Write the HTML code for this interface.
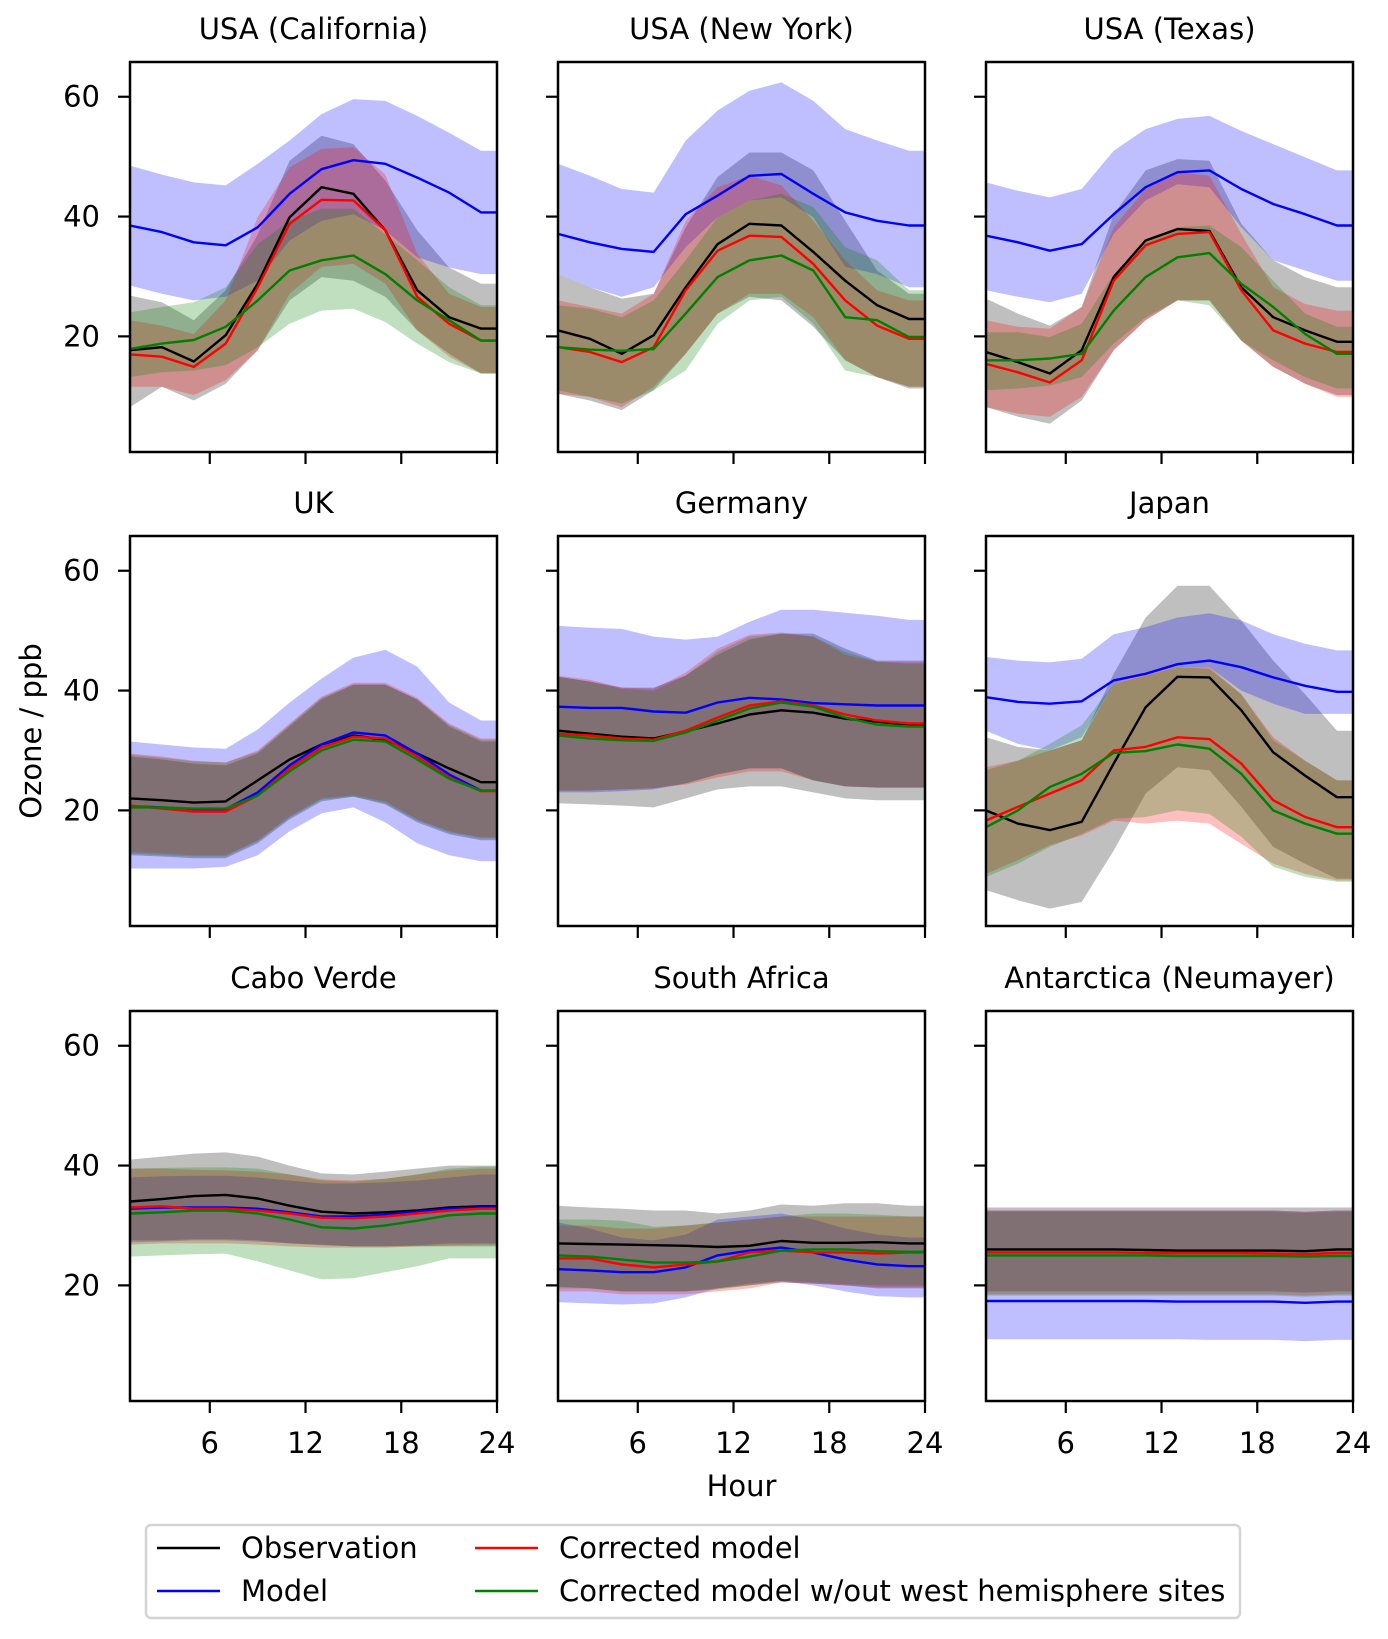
<!DOCTYPE html>
<html><head><meta charset="utf-8"><style>
html,body{margin:0;padding:0;background:#fff;}
svg{display:block;font-family:"DejaVu Sans","Liberation Sans",sans-serif;}
</style></head><body>
<svg id="fig" width="1388" height="1639" viewBox="0 0 1388 1639" xmlns="http://www.w3.org/2000/svg"></svg>
<script>
const HOURS=[1,3,5,7,9,11,13,15,17,19,21,23];
const Y_TICKS=[20,40,60];
const X_TICKS=[6,12,18,24];
const TITLES=["USA (California)","USA (New York)","USA (Texas)","UK","Germany","Japan","Cabo Verde","South Africa","Antarctica (Neumayer)"];
// California
const caObs=[17.7,18.2,15.8,20.2,28.8,39.9,44.9,43.8,37.7,27.7,23.2,21.3];
const caObsHi=[26.8,25.7,22.7,27.7,37,49.3,53.5,52.1,46,37.7,31.5,28.8];
const caObsLo=[8.2,11.6,9.3,12.1,17.7,26,29.9,29.3,26.6,21,17.1,13.8];
const caMod=[38.5,37.4,35.7,35.2,38.2,43.8,47.9,49.4,48.8,46.5,44,40.7];
const caModHi=[48.5,47,45.7,45.2,48.8,52.7,57.1,59.6,59.3,56.8,54,51];
const caModLo=[28.5,27.1,26,26.6,29.3,36,39.3,40.4,37.7,33.2,31.5,30.4];
const caCor=[17,16.6,14.9,18.8,28.2,38.8,42.8,42.7,37.7,26.6,22.1,19.3];
const caCorHi=[22.7,21.8,20.4,26,39.9,48.2,51.3,51.6,47,33.8,27.1,24.9];
const caCorLo=[11.6,11.6,10.2,12.7,17.7,27.1,31.6,32.1,28.8,21,16.6,13.8];
const caWo=[17.9,18.8,19.4,21.6,26,31,32.7,33.5,30.4,26,22.7,19.3];
const caWoHi=[24,24.9,25.7,28.2,35.4,39.3,41.3,41.3,37,32.7,28.2,25.2];
const caWoLo=[13.2,14,14.3,15.2,18.2,22.1,24.3,24.6,22.4,18.8,15.7,13.8];
// New York
const nyObs=[21,19.6,17.1,20.2,28.2,35.4,38.8,38.5,34.1,29.3,25.2,22.9];
const nyObsHi=[30.4,28.2,26.3,27.1,38.2,46.6,50.7,50.7,47.7,39.3,31,27.1];
const nyObsLo=[10.4,9.3,7.7,11,17.1,23.8,26.6,26,21.6,16,13.2,11.3];
const nyMod=[37.1,35.7,34.6,34.1,40.4,43.5,46.8,47.1,43.8,40.7,39.3,38.5];
const nyModHi=[48.8,46.8,44.6,44,52.7,57.7,61,62.4,59.3,54.6,52.7,51];
const nyModLo=[30.4,28.2,26.6,28.2,34.9,39.9,42.7,43.2,39.9,31.6,30.4,28.2];
const nyCor=[18.2,17.4,15.7,18.2,27.7,34.3,36.8,36.6,32.1,26,21.8,19.6];
const nyCorHi=[26,24.9,23.8,27.1,39.3,44.9,46.8,45.2,39.3,32.7,27.7,26];
const nyCorLo=[10.4,9.9,8.2,11.6,17.1,23.8,27.1,27.1,23.2,16,13.2,11.6];
const nyWo=[18.2,17.8,17.6,17.9,23.8,29.9,32.7,33.5,31,23.2,22.7,19.9];
const nyWoHi=[25.2,24.6,23.2,26,32.7,39.9,42.7,43.8,41.6,34.9,32.7,27.7];
const nyWoLo=[11,9.9,8.8,11,14.3,22.1,26,26.6,22.1,14.3,13.2,11.6];
// Texas
const txObs=[17.4,15.7,13.8,17.7,29.9,36,37.9,37.6,28.2,23.2,21,19.1];
const txObsHi=[26.3,23.8,21.8,24.9,40.4,47.7,49.6,49.3,38.8,32.7,29.9,28.2];
const txObsLo=[8.2,6.6,5.4,9.3,17.7,22.7,26,26,19.3,14.9,12.1,10.2];
const txMod=[36.8,35.7,34.3,35.4,40.4,44.9,47.4,47.7,44.6,42.1,40.4,38.5];
const txModHi=[45.7,44.3,43.2,44.6,51,54.6,56.3,56.8,54.3,52.1,49.9,47.7];
const txModLo=[27.7,26.6,25.7,27.1,37.1,42.7,45.4,44.9,38.2,32.7,31,29.3];
const txCor=[15.4,14,12.3,16,29.3,35.2,37.1,37.4,27.7,21,18.8,17.4];
const txCorHi=[22.7,21.6,21.3,24.9,38.2,44.6,47.4,46.8,37.1,28.2,25.4,24.3];
const txCorLo=[8.2,7.1,6.6,9.9,17.7,22.7,26,26,19.3,14.9,12.1,9.9];
const txWo=[16,16,16.3,17.1,24.3,29.9,33.2,33.9,28.8,24.9,20.4,17.1];
const txWoHi=[20.7,20.7,19.9,22.1,30.4,36,38.2,38.5,34.9,29.3,23.8,21.6];
const txWoLo=[11,11.3,11.8,13.2,18.8,23.2,26,25.2,19.3,16,13.2,11.3];
// UK
const ukObs=[22,21.7,21.3,21.5,25,28.5,31,32.5,31.8,29.5,27,24.7];
const ukObsHi=[29,28.5,27.8,27.5,29.5,34,38.5,41,41,38.5,34,31.5];
const ukObsLo=[12.5,12.3,12,12,14.5,18.5,21.5,22.3,21,18,16,15];
const ukMod=[20.7,20.5,20.2,20.2,23,27.5,31,33,32.5,29.5,26,23.3];
const ukModHi=[31.5,31,30.5,30.3,33.5,38,42,45.5,46.8,44,38,35];
const ukModLo=[10.3,10.3,10.3,10.6,12.5,16.5,19.5,20.5,18,14.5,12.5,11.5];
const ukCor=[20.8,20.3,19.8,19.8,22.5,27,30.5,32.3,32,29,25.5,23.2];
const ukCorHi=[29.5,29,28.3,28,30,34.5,39,41.3,41.3,38.8,34.5,32];
const ukCorLo=[13,12.8,12.5,12.5,15,19,22,22.5,21.5,18.5,16.5,15.5];
const ukWo=[20.5,20.5,20.3,20.3,22.5,26.5,30,31.8,31.5,28.5,25.3,23.3];
const ukWoHi=[29.3,28.8,28.2,28,29.8,34.3,38.8,41,41,38.5,34.3,31.8];
const ukWoLo=[12.8,12.5,12.3,12.3,14.8,18.8,21.8,22.3,21.2,18.3,16.3,15.3];
// Germany
const deObs=[33.3,32.8,32.3,32,33.2,34.5,36,36.7,36.3,35.3,34.8,34.3];
const deObsHi=[42.3,41.5,40.5,40.5,42.5,46,48.5,49.5,49.5,47,45,45];
const deObsLo=[21.2,21,20.8,20.5,22,23.5,24,24,23,22,21.7,21.7];
const deMod=[37.3,37.1,37.1,36.5,36.3,38,38.8,38.5,37.9,37.7,37.5,37.5];
const deModHi=[50.8,50.5,50.3,49,48.5,49,51.5,53.5,53.5,53,52.5,51.8];
const deModLo=[23,23,23.2,23.5,24.5,26,27,27,25,24,23.8,23.8];
const deCor=[32.8,32.5,32,31.8,33.3,35.5,37.5,38.2,37.5,36,35,34.5];
const deCorHi=[42.5,41.8,40.5,40.3,43,47,49.3,49.7,49,46,44.8,44.7];
const deCorLo=[23.3,23.3,23.5,23.7,24.3,25.5,26.5,26.5,25,24,23.8,23.8];
const deWo=[32.5,32,31.7,31.6,33,35,37,38,37.3,35.5,34.3,34];
const deWoHi=[42.3,41.5,40.3,40,42.5,46.5,49,49.5,49,46.5,44.8,44.5];
const deWoLo=[23.3,23.3,23.5,23.7,24.5,26,27,27,25,24,23.8,23.8];
// Japan
const jpObs=[20,17.8,16.7,18.1,27.8,37.2,42.3,42.2,36.7,29.7,25.8,22.2];
const jpObsHi=[32.2,30.6,30,31.7,42.8,52.2,57.5,57.5,51.7,45,39.4,33.3];
const jpObsLo=[6.7,5,3.6,4.7,13.3,22.8,27.2,26.7,20.6,13.9,11.1,8.6];
const jpMod=[38.9,38.1,37.8,38.2,41.7,42.8,44.4,45,43.9,42.2,40.8,39.8];
const jpModHi=[45.6,45,44.7,45.3,49.4,50.6,52.2,52.9,51.7,49.4,47.8,46.7];
const jpModLo=[33.3,31.1,30,32.2,41.1,42.8,43.9,43.9,40,37.8,36.1,36.1];
const jpCor=[18.3,20.6,22.8,25,30,30.6,32.2,31.9,27.8,21.7,18.9,17.2];
const jpCorHi=[27.2,28.3,30,31.7,41.1,42.8,43.9,43.9,39.4,32.2,28.3,25];
const jpCorLo=[9.4,11.7,14.2,15.8,18.3,17.8,18.3,17.8,14.4,11.1,9.4,8.3];
const jpWo=[17.2,20,23.9,26.1,29.6,29.9,31,30.3,26.1,20,17.8,16.1];
const jpWoHi=[26.7,28.3,31.1,34.2,41.1,42.5,43.9,43.6,39.4,31.7,28.3,25];
const jpWoLo=[8.9,11.1,13.9,16.1,18.6,18.9,20,19.4,15.6,10.6,8.9,8.1];
// Cabo Verde
const cvObs=[34,34.4,34.9,35.1,34.5,33.3,32.3,32,32.2,32.5,33,33.2];
const cvObsHi=[41,41.5,42,42.2,41.5,40,38.7,38.5,39,39.5,40,40];
const cvObsLo=[27.5,27.5,27.7,27.7,27.5,27,26.8,26.5,26.5,26.5,26.5,26.5];
const cvMod=[32.8,33,33,33,32.8,32.2,31.5,31.5,31.8,32.3,32.8,33];
const cvModHi=[38,38.2,38.3,38.3,38,37.5,37,37,37.2,37.5,38,38.5];
const cvModLo=[27.2,27.3,27.5,27.5,27.3,27,26.7,26.5,26.5,26.7,27,27];
const cvCor=[33,33.2,32.8,32.8,32.5,32,31.3,31.2,31.5,32,32.5,32.8];
const cvCorHi=[39.5,39.5,39.3,39.2,39,38.5,37.7,37.5,37.8,38.5,39.2,39.5];
const cvCorLo=[26.8,27,27,27,26.8,26.5,26.3,26.3,26.3,26.5,26.7,26.8];
const cvWo=[32,32.2,32.5,32.5,32,31,29.7,29.5,30,30.8,31.7,32];
const cvWoHi=[39.5,39.6,39.7,39.7,39.5,38.5,37.5,37.3,37.8,38.5,39.5,39.8];
const cvWoLo=[24.8,25,25.2,25.3,24,22.5,21,21.2,22.2,23.2,24.5,24.5];
// South Africa
const zaObs=[27,26.9,26.8,26.7,26.6,26.4,26.6,27.4,27.1,27.1,27.2,27];
const zaObsHi=[33.3,33,32.8,32.5,32.5,32,32.5,33.5,33.3,33.7,33.7,33.3];
const zaObsLo=[19.8,19.5,19,19,19,19.5,20,20.5,20.3,20,19.5,19.5];
const zaMod=[22.7,22.5,22.2,22.2,23,25,25.8,26.3,25.5,24.3,23.5,23.2];
const zaModHi=[30.5,29.5,28,27.5,28.5,31,31.5,32,31,29.5,28.5,28];
const zaModLo=[17.2,17,16.8,17,18,19.5,20.3,20.7,20,19,18.2,18];
const zaCor=[24.5,24.5,23.5,23,23.5,24,25.5,25.8,25.5,25.5,25.3,25.5];
const zaCorHi=[30,30,29.5,29.5,30,30.5,31,31.5,31.5,31.5,31.5,31.5];
const zaCorLo=[19,19,18.5,18.5,18.5,19,19.5,20.5,20.3,20,19.7,19.7];
const zaWo=[25,24.8,24.3,23.8,23.8,24,24.8,25.8,26,26,25.7,25.6];
const zaWoHi=[31,31,30.8,29.8,30,30.5,31,31.5,32,32,31.8,31.5];
const zaWoLo=[19.5,19.5,19,19,19,19.3,20,20.8,20.5,20.2,20,20];
// Antarctica
const anObs=[26,26,26,26,26,25.9,25.8,25.8,25.8,25.8,25.7,26];
const anObsHi=[33,33,33,33,33,33,33,33,33,33,33,33];
const anObsLo=[19,19,19,19,19,19,19,19,19,19,18.8,19];
const anMod=[17.4,17.4,17.4,17.4,17.4,17.4,17.3,17.3,17.3,17.3,17.1,17.3];
const anModHi=[32.5,32.5,32.5,32.5,32.5,32.5,32.5,32.5,32.5,32.5,32.3,32.5];
const anModLo=[11,11,11,11,11,11,11,10.9,10.9,10.9,10.7,10.9];
const anCor=[25.5,25.5,25.5,25.5,25.5,25.4,25.4,25.4,25.4,25.3,25.2,25.4];
const anCorHi=[32.5,32.5,32.5,32.5,32.5,32.5,32.5,32.5,32.5,32.5,32.3,32.5];
const anCorLo=[18.5,18.5,18.5,18.5,18.5,18.5,18.5,18.5,18.5,18.5,18.3,18.5];
const anWo=[25,25,25,25,25,25,24.9,24.9,24.9,24.9,24.8,24.9];
const anWoHi=[32.3,32.3,32.3,32.3,32.3,32.3,32.3,32.3,32.3,32.3,32.1,32.3];
const anWoLo=[18.3,18.3,18.3,18.3,18.3,18.3,18.3,18.3,18.3,18.3,18.1,18.3];

const PANELS=[
 [caObs,caObsLo,caObsHi,caMod,caModLo,caModHi,caCor,caCorLo,caCorHi,caWo,caWoLo,caWoHi],
 [nyObs,nyObsLo,nyObsHi,nyMod,nyModLo,nyModHi,nyCor,nyCorLo,nyCorHi,nyWo,nyWoLo,nyWoHi],
 [txObs,txObsLo,txObsHi,txMod,txModLo,txModHi,txCor,txCorLo,txCorHi,txWo,txWoLo,txWoHi],
 [ukObs,ukObsLo,ukObsHi,ukMod,ukModLo,ukModHi,ukCor,ukCorLo,ukCorHi,ukWo,ukWoLo,ukWoHi],
 [deObs,deObsLo,deObsHi,deMod,deModLo,deModHi,deCor,deCorLo,deCorHi,deWo,deWoLo,deWoHi],
 [jpObs,jpObsLo,jpObsHi,jpMod,jpModLo,jpModHi,jpCor,jpCorLo,jpCorHi,jpWo,jpWoLo,jpWoHi],
 [cvObs,cvObsLo,cvObsHi,cvMod,cvModLo,cvModHi,cvCor,cvCorLo,cvCorHi,cvWo,cvWoLo,cvWoHi],
 [zaObs,zaObsLo,zaObsHi,zaMod,zaModLo,zaModHi,zaCor,zaCorLo,zaCorHi,zaWo,zaWoLo,zaWoHi],
 [anObs,anObsLo,anObsHi,anMod,anModLo,anModHi,anCor,anCorLo,anCorHi,anWo,anWoLo,anWoHi]
];
const SERIES=["observation","model","corrected-model","corrected-model-no-west"];
const COLORS=["#000000","#0000ff","#ff0000","#008000"];

const NS="http://www.w3.org/2000/svg";
const svg=document.getElementById('fig');
function mk(tag,attrs,parent){const e=document.createElementNS(NS,tag);for(const k in attrs)e.setAttribute(k,attrs[k]);(parent||svg).appendChild(e);return e;}
const LEFTS=[130,558,986],TOPS=[62,536,1011],W=367,H=390,YMIN=0.7,YMAX=65.8,XMIN=1,XMAX=24;
const FS=29;

PANELS.forEach((p,i)=>{
  const r=Math.floor(i/3),c=i%3,L=LEFTS[c],T=TOPS[r];
  const sx=h=>L+(h-XMIN)/(XMAX-XMIN)*W;
  const sy=v=>T+(YMAX-v)/(YMAX-YMIN)*H;
  const g=mk('g',{'clip-path':'url(#clip'+i+')'});
  
  
  const cp=mk('clipPath',{id:'clip'+i});mk('rect',{x:L,y:T,width:W,height:H},cp);
  const hx=HOURS.concat([24]);
  const ext=a=>a.concat([a[a.length-1]]);
  for(let s=0;s<4;s++){
    const lo=ext(p[s*3+1]),hi=ext(p[s*3+2]);
    let d='M'+hx.map((h,k)=>sx(h).toFixed(1)+','+sy(hi[k]).toFixed(1)).join('L');
    for(let k=hx.length-1;k>=0;k--)d+='L'+sx(hx[k]).toFixed(1)+','+sy(lo[k]).toFixed(1);
    const band=mk('path',{d:d+'Z',fill:COLORS[s],'fill-opacity':0.25,stroke:'none'},g);
    
    
  }
  for(let s=0;s<4;s++){
    const m=ext(p[s*3]);
    const line=mk('polyline',{points:hx.map((h,k)=>sx(h).toFixed(1)+','+sy(m[k]).toFixed(1)).join(' '),fill:'none',stroke:COLORS[s],'stroke-width':2.4,'stroke-linejoin':'round'},g);
    
    
  }
  const frame=mk('rect',{x:L,y:T,width:W,height:H,fill:'none',stroke:'#000','stroke-width':2.5});
  
  
  const t=mk('text',{x:L+W/2,y:T-23,'text-anchor':'middle','font-size':FS});
  t.textContent=TITLES[i];
  
  
  Y_TICKS.forEach(v=>{
    mk('line',{x1:L-12,x2:L,y1:sy(v),y2:sy(v),stroke:'#000','stroke-width':2.2});
    if(c===0){const tl=mk('text',{x:L-30,y:sy(v)+10,'text-anchor':'end','font-size':FS});tl.textContent=v;
      
      }
  });
  X_TICKS.forEach(h=>{
    mk('line',{x1:sx(h),x2:sx(h),y1:T+H,y2:T+H+12,stroke:'#000','stroke-width':2.2});
    if(r===2){const tl=mk('text',{x:sx(h),y:T+H+52,'text-anchor':'middle','font-size':FS});tl.textContent=h;
      
      }
  });
});
const xl=mk('text',{x:741.5,y:1496,'text-anchor':'middle','font-size':FS});xl.textContent='Hour';


const yl=mk('text',{x:0,y:0,'text-anchor':'middle','font-size':FS,transform:'translate(41,731) rotate(-90)'});yl.textContent='Ozone / ppb';


const lg=mk('g',{});


mk('rect',{x:146,y:1525,width:1094,height:93,rx:5,fill:'#fff',stroke:'#d4d4d4','stroke-width':2.5},lg);
const LEG=[["Observation",0,157,1548],["Model",1,157,1591],["Corrected model",2,475,1548],["Corrected model w/out west hemisphere sites",3,475,1591]];
LEG.forEach(e=>{
  const eg=mk('g',{},lg);
  
  
  mk('line',{x1:e[2],x2:e[2]+63,y1:e[3],y2:e[3],stroke:COLORS[e[1]],'stroke-width':2.6},eg);
  const tx=mk('text',{x:e[2]+84,y:e[3]+10,'font-size':FS},eg);tx.textContent=e[0];
});
</script>
</body></html>
